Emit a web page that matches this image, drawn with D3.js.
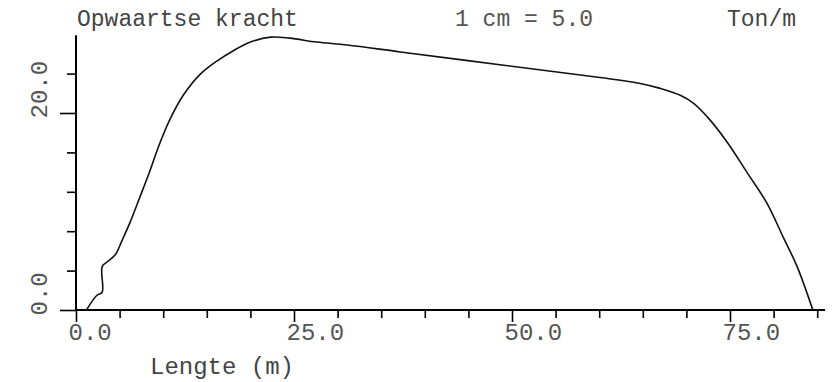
<!DOCTYPE html>
<html>
<head>
<meta charset="utf-8">
<script src="https://cdn.jsdelivr.net/npm/d3@7"></script>
<style>
  body { margin: 0; background: #fff; }
  svg { display: block; }
  text { font-family: "Liberation Mono", "DejaVu Sans Mono", monospace; }
</style>
</head>
<body>
<svg width="836" height="382"></svg>
<script>
// lengte langs het schip (m) en opwaartse kracht (Ton/m)
const lengte = [1.2, 2.4, 3.0, 3.0, 3.6, 4.5, 5.3, 6.2, 7.3, 8.3, 9.6, 10.8, 12.3, 14.2, 16.2, 18.0, 20.0,
                22.3, 24.5, 27.6, 31.1, 37.2, 48.6, 60.1, 64.7, 67.0, 69.3, 70.8, 72.7, 74.7, 77.0, 79.2, 81.1, 82.7, 84.5];
const kracht = [0.0, 1.5, 1.8, 4.4, 4.9, 5.6, 7.1, 8.9, 11.4, 13.7, 16.9, 19.4, 21.8, 23.9, 25.3, 26.3, 27.2,
                27.7, 27.6, 27.2, 26.9, 26.2, 24.9, 23.6, 23.0, 22.5, 21.8, 21.0, 19.3, 17.0, 13.9, 10.9, 7.4, 4.4, 0.0];

const xMajor = [0, 25, 50, 75];
const xMinor = [5, 10, 15, 20, 30, 35, 40, 45, 55, 60, 65, 70, 80, 85];
const yMajor = [0, 20];
const yMinor = [4, 8, 12, 16, 24];

const titel = "Opwaartse kracht";
const schaal = "1 cm = 5.0";
const eenheid = "Ton/m";
const asTitel = "Lengte (m)";

const svg = d3.select("svg");

// schalen: 0 m op x=76, 8.72 px per m; 0 Ton/m op y=310, 9.85 px per eenheid
const x = d3.scaleLinear().domain([0, 85]).range([76, 76 + 85 * 8.72]);
const y = d3.scaleLinear().domain([0, 20]).range([310, 113]);

// x-as
const gx = svg.append("g").attr("transform", `translate(0,${y(0)})`);
gx.append("g")
    .call(d3.axisBottom(x).tickValues(xMinor).tickSize(8).tickFormat(""))
    .call(g => g.select(".domain").remove());
gx.append("g")
    .call(d3.axisBottom(x).tickValues(xMajor).tickSize(12).tickFormat(d3.format(".1f")))
    .call(g => g.select(".domain").remove())
    .selectAll("text")
    .attr("x", -8)
    .attr("y", 30)
    .attr("dy", 0)
    .style("text-anchor", "start")
    .style("font-size", "24px")
    .style("font-family", "Liberation Mono")
    .attr("fill", "#555");
gx.append("line")
    .attr("x1", x(0)).attr("x2", x(85.9))
    .attr("stroke", "#000").attr("stroke-width", 2);

// y-as
const gy = svg.append("g").attr("transform", `translate(${x(0)},0)`);
gy.append("g")
    .call(d3.axisLeft(y).tickValues(yMinor).tickSize(9).tickFormat(""))
    .call(g => g.select(".domain").remove());
gy.append("g")
    .call(d3.axisLeft(y).tickValues(yMajor).tickSize(16).tickFormat(d3.format(".1f")))
    .call(g => g.select(".domain").remove())
    .selectAll("text")
    .attr("x", 0)
    .attr("y", 0)
    .attr("dy", 0)
    .attr("transform", "translate(-29,5) rotate(-90)")
    .style("text-anchor", "start")
    .style("font-size", "24px")
    .style("font-family", "Liberation Mono")
    .attr("fill", "#555");
gy.append("line")
    .attr("y1", y(27.9)).attr("y2", y(0))
    .attr("stroke", "#000").attr("stroke-width", 2);

svg.selectAll(".tick line").attr("stroke", "#000").attr("stroke-width", 1.6);

// kromme
const lijn = d3.line()
    .x((d, i) => x(lengte[i]))
    .y(d => y(d))
    .curve(d3.curveCatmullRom.alpha(0.5));

svg.append("path")
    .datum(kracht)
    .attr("d", lijn)
    .attr("fill", "none")
    .attr("stroke", "#111")
    .attr("stroke-width", 1.6);

// teksten
svg.append("text").attr("x", 77).attr("y", 26).style("font-size", "23px").attr("fill", "#444").text(titel);
svg.append("text").attr("x", 455).attr("y", 26).style("font-size", "23px").attr("fill", "#555").text(schaal);
svg.append("text").attr("x", 727).attr("y", 26).style("font-size", "23px").attr("fill", "#444").text(eenheid);
svg.append("text").attr("x", 150).attr("y", 374).style("font-size", "24px").attr("fill", "#444").text(asTitel);
</script>
</body>
</html>
